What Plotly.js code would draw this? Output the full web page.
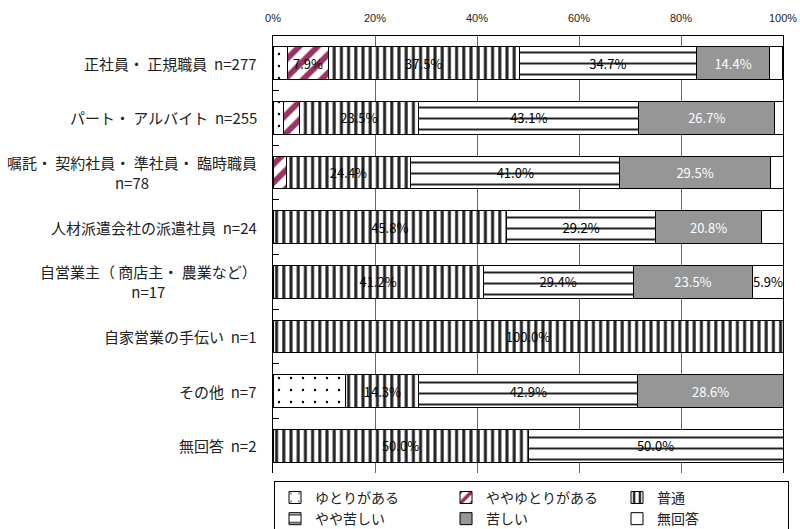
<!DOCTYPE html>
<html>
<head>
<meta charset="utf-8">
<script src="https://cdn.plot.ly/plotly-3.0.1.min.js"></script>
<style>html,body{margin:0;padding:0;background:#fff;}#chart{width:800px;height:529px;}</style>
</head>
<body>
<div id="chart"></div>
<script>
// Categories (top to bottom)
const categories = [
  "正社員・ 正規職員  n=277",
  "パート・ アルバイト  n=255",
  "嘱託・ 契約社員・ 準社員・ 臨時職員<br>n=78",
  "人材派遣会社の派遣社員  n=24",
  "自営業主（ 商店主・ 農業など）<br>n=17",
  "自家営業の手伝い  n=1",
  "その他  n=7",
  "無回答  n=2"
];
// Series names
const seriesNames = ["ゆとりがある", "ややゆとりがある", "普通", "やや苦しい", "苦しい", "無回答"];
// Series values (%)
const yutori      = [2.9, 2.0, 0.0, 0.0, 0.0, 0.0, 14.3, 0.0];
const yayaYutori  = [7.9, 3.1, 2.6, 0.0, 0.0, 0.0, 0.0, 0.0];
const futsu       = [37.5, 23.5, 24.4, 45.8, 41.2, 100.0, 14.3, 50.0];
const yayaKurushii= [34.7, 43.1, 41.0, 29.2, 29.4, 0.0, 42.9, 50.0];
const kurushii    = [14.4, 26.7, 29.5, 20.8, 23.5, 0.0, 28.6, 0.0];
const mukaitou    = [2.5, 1.6, 2.6, 4.2, 5.9, 0.0, 0.0, 0.0];
// X tick values
const tickVals = [0, 20, 40, 60, 80, 100];
const tickText = ["0%", "20%", "40%", "60%", "80%", "100%"];

const allValues = [yutori, yayaYutori, futsu, yayaKurushii, kurushii, mukaitou];
const showLabels = [false, true, true, true, true, true];

const styles = [
  {color: "#ffffff", pattern: {shape: ".", fgcolor: "#000000", bgcolor: "#ffffff", size: 12, solidity: 0.03}, text: "#000"},
  {color: "#ffffff", pattern: {shape: "/", fgcolor: "#993366", bgcolor: "#ffffff", size: 13, solidity: 0.45}, text: "#000"},
  {color: "#ffffff", pattern: {shape: "|", fgcolor: "#222222", bgcolor: "#ffffff", size: 7.2, solidity: 0.42}, text: "#000"},
  {color: "#ffffff", pattern: {shape: "-", fgcolor: "#222222", bgcolor: "#ffffff", size: 11, solidity: 0.18}, text: "#000"},
  {color: "#969696", pattern: {shape: ""}, text: "#ffffff"},
  {color: "#ffffff", pattern: {shape: ""}, text: "#000"}
];

const traces = allValues.map((vals, i) => ({
  type: "bar",
  orientation: "h",
  name: seriesNames[i],
  x: vals,
  y: categories,
  text: vals.map(v => (showLabels[i] && v >= 5) ? v.toFixed(1) + "%" : ""),
  textposition: "inside",
  insidetextanchor: "middle",
  textangle: 0,
  constraintext: "none",
  insidetextfont: {family: "Noto Sans CJK JP, sans-serif", size: 13, color: styles[i].text},
  marker: {color: styles[i].color, pattern: styles[i].pattern, line: {color: "#000", width: 1}},
  hoverinfo: "skip"
}));

const annotations = categories.map(c => ({
  xref: "paper", yref: "y", x: 0, y: c, xanchor: "right", yanchor: "middle",
  xshift: -14, align: "center", showarrow: false, text: c,
  font: {family: "Noto Sans CJK JP, sans-serif", size: 15, color: "#222"}
}));

const layout = {
  width: 800, height: 529,
  margin: {l: 273, r: 17, t: 36, b: 56, pad: 0, autoexpand: false},
  paper_bgcolor: "#fff", plot_bgcolor: "#fff",
  barmode: "stack",
  bargap: 0.4,
  showlegend: true,
  xaxis: {
    side: "top", range: [0, 100], tickvals: tickVals, ticktext: tickText,
    showgrid: true, gridcolor: "#666", gridwidth: 1, zeroline: false,
    showline: true, linecolor: "#000", linewidth: 1, mirror: false,
    ticks: "", ticklabelstandoff: 9,
    tickfont: {family: "Liberation Sans, Arial, sans-serif", size: 11, color: "#222"},
    fixedrange: true
  },
  yaxis: {
    type: "category", autorange: "reversed", showticklabels: false,
    showline: true, linecolor: "#000", linewidth: 1, mirror: true,
    ticks: "inside", tickson: "boundaries", ticklen: 6, tickcolor: "#000",
    showgrid: false, zeroline: false, fixedrange: true
  },
  legend: {
    orientation: "h", xref: "paper", yref: "paper",
    x: 0.002, xanchor: "left", y: -0.018, yanchor: "top",
    bordercolor: "#000", borderwidth: 1, bgcolor: "#fff",
    font: {family: "Noto Sans CJK JP, sans-serif", size: 14, color: "#222"},
    entrywidth: 126, entrywidthmode: "pixels", traceorder: "normal"
  },
  annotations: annotations
};

Plotly.newPlot("chart", traces, layout, {displayModeBar: false, staticPlot: true});
</script>
</body>
</html>
